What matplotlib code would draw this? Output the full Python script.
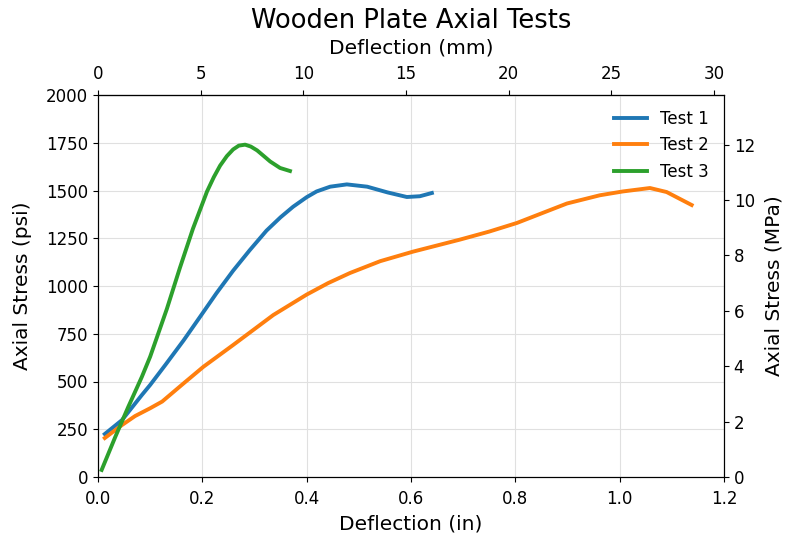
import matplotlib
matplotlib.use("Agg")
import matplotlib.pyplot as plt

t1_x = [0.013, 0.046, 0.084, 0.10, 0.13, 0.164, 0.196, 0.227, 0.259, 0.291, 0.323, 0.350, 0.374, 0.400, 0.419, 0.445, 0.477, 0.516, 0.555, 0.592, 0.617, 0.640]
t1_y = [225, 298, 429, 482, 590, 715, 840, 962, 1080, 1188, 1290, 1360, 1415, 1465, 1495, 1520, 1532, 1520, 1490, 1466, 1470, 1487]

t2_x = [0.013, 0.046, 0.071, 0.10, 0.123, 0.164, 0.202, 0.259, 0.336, 0.40, 0.441, 0.483, 0.541, 0.604, 0.694, 0.75, 0.803, 0.85, 0.899, 0.962, 1.006, 1.058, 1.09, 1.138]
t2_y = [204, 272, 319, 360, 395, 490, 577, 691, 848, 955, 1015, 1068, 1130, 1180, 1243, 1285, 1330, 1380, 1432, 1475, 1495, 1513, 1492, 1424]

t3_x = [0.007, 0.033, 0.058, 0.084, 0.10, 0.132, 0.157, 0.182, 0.209, 0.222, 0.234, 0.247, 0.259, 0.270, 0.282, 0.293, 0.305, 0.318, 0.330, 0.349, 0.368]
t3_y = [37, 209, 367, 524, 630, 880, 1095, 1300, 1495, 1570, 1630, 1680, 1715, 1735, 1740, 1730, 1710, 1680, 1652, 1618, 1602]

PSI_TO_MPA = 0.00689476
IN_TO_MM = 25.4

fig = plt.figure(figsize=(7.86, 5.37), dpi=100)
ax = fig.add_axes([98/786, 1-477/537, (724-98)/786, (477-95)/537])
ax.plot(t1_x, t1_y, color='#1f77b4', lw=2.8, label='Test 1', solid_joinstyle='round')
ax.plot(t2_x, t2_y, color='#ff7f0e', lw=2.8, label='Test 2', solid_joinstyle='round')
ax.plot(t3_x, t3_y, color='#2ca02c', lw=2.8, label='Test 3', solid_joinstyle='round')
ax.set_xlim(0, 1.2)
ax.set_ylim(0, 2000)
ax.grid(True, color='#e0e0e0', lw=0.8)
ax.set_xlabel('Deflection (in)', fontsize=14.5, labelpad=5)
ax.set_ylabel('Axial Stress (psi)', fontsize=14.5, labelpad=10)
ax.tick_params(labelsize=12)
ax.tick_params(axis='x', pad=5.5)
ax.legend(frameon=False, fontsize=12, loc='upper right')

ax2 = ax.twinx()
ax2.set_ylim(0, 2000*PSI_TO_MPA)
ax2.set_yticks([0, 2, 4, 6, 8, 10, 12])
ax2.set_ylabel('Axial Stress (MPa)', fontsize=14.5, labelpad=7)
ax2.tick_params(labelsize=12)

ax3 = ax.secondary_xaxis('top', functions=(lambda x: x*IN_TO_MM, lambda x: x/IN_TO_MM))
ax3.set_xticks([0, 5, 10, 15, 20, 25, 30])
ax3.set_xlabel('Deflection (mm)', fontsize=14.5, labelpad=8.5)
ax3.tick_params(labelsize=12, pad=5)

ax.set_title('Wooden Plate Axial Tests', fontsize=18.5, pad=7.5)
fig.savefig('out.png', dpi=100)
